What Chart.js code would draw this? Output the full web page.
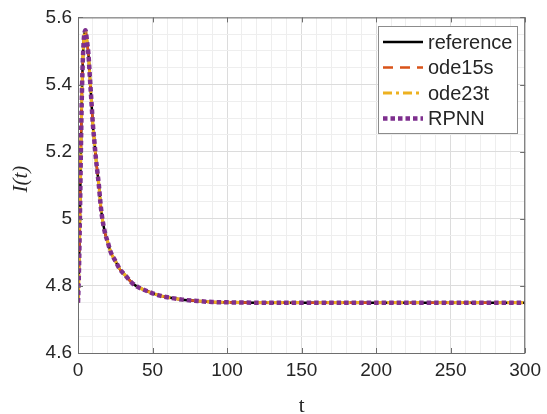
<!DOCTYPE html>
<html>
<head>
<meta charset="utf-8">
<script src="https://cdn.jsdelivr.net/npm/chart.js@4"></script>
<style>
  html, body { margin: 0; padding: 0; background: #fff; }
  #wrap { width: 547px; height: 414px; }
</style>
</head>
<body>
<div id="wrap"><canvas id="plot" width="547" height="414"></canvas></div>
<script>
// time samples (t) and I(t)
const tValues = [0, 0.5, 1, 1.5, 2, 2.5, 3, 3.5, 4, 5, 6, 7, 8, 9, 10, 11, 12, 13, 14, 15, 16, 18, 20, 22, 25, 28, 32, 36, 40, 45, 50, 55, 60, 70, 80, 90, 100, 120, 150, 200, 250, 300];
const referenceValues = [4.75, 4.82, 4.93, 5.07, 5.22, 5.35, 5.44, 5.50, 5.54, 5.562, 5.53, 5.49, 5.42, 5.35, 5.28, 5.23, 5.18, 5.14, 5.10, 5.05, 5.01, 4.96, 4.93, 4.90, 4.875, 4.85, 4.83, 4.81, 4.797, 4.787, 4.778, 4.771, 4.766, 4.759, 4.755, 4.752, 4.751, 4.75, 4.75, 4.75, 4.75, 4.75];
// the solvers and the network sit on top of the reference
const ode15sValues = referenceValues.slice();
const ode23tValues = referenceValues.slice();
const rpnnValues = referenceValues.slice();

const seriesNames = ["reference", "ode15s", "ode23t", "RPNN"];
const xTickLabels = [0, 50, 100, 150, 200, 250, 300];
const yTickLabels = [4.6, 4.8, 5, 5.2, 5.4, 5.6];

function toPoints(ys) {
    return tValues.map((t, i) => ({ x: t, y: ys[i] }));
}

function isMajorY(v) {
    return yTickLabels.some(l => Math.abs(l - v) < 1e-6);
}

const axisColor = "#6e6e6e";
const textColor = "#262626";

// MATLAB-like box, inner ticks, axis titles and legend
const matlabDecor = {
    id: "matlabDecor",
    afterDatasetsDraw(chart) {
        const ctx = chart.ctx;
        const a = chart.chartArea;
        const xs = chart.scales.x, ys = chart.scales.y;
        ctx.save();
        ctx.strokeStyle = axisColor;
        ctx.lineWidth = 1;
        ctx.strokeRect(a.left + 0.5, a.top + 0.5, a.right - a.left - 1, a.bottom - a.top);
        ctx.beginPath();
        xTickLabels.forEach(v => {
            const px = Math.round(xs.getPixelForValue(v)) + 0.5;
            ctx.moveTo(px, a.bottom); ctx.lineTo(px, a.bottom - 5);
            ctx.moveTo(px, a.top); ctx.lineTo(px, a.top + 5);
        });
        yTickLabels.forEach(v => {
            const py = Math.round(ys.getPixelForValue(v)) + 0.5;
            ctx.moveTo(a.left, py); ctx.lineTo(a.left + 5, py);
            ctx.moveTo(a.right, py); ctx.lineTo(a.right - 5, py);
        });
        ctx.stroke();

        // legend
        const lx = 378, ly = 26, lw = 139, lh = 107;
        ctx.fillStyle = "#fff";
        ctx.fillRect(lx, ly, lw, lh);
        ctx.strokeStyle = "#8c8c8c";
        ctx.strokeRect(lx + 0.5, ly + 0.5, lw, lh);
        ctx.font = "20px 'Liberation Sans', Arial, sans-serif";
        ctx.textBaseline = "middle";
        ctx.textAlign = "left";
        chart.data.datasets.forEach((ds, i) => {
            const y = 42 + i * 25.5;
            ctx.beginPath();
            ctx.strokeStyle = ds.borderColor;
            ctx.lineWidth = ds.borderWidth;
            ctx.setLineDash(ds.borderDash || []);
            ctx.moveTo(383, y);
            ctx.lineTo(423, y);
            ctx.stroke();
            ctx.setLineDash([]);
            ctx.fillStyle = textColor;
            ctx.fillText(ds.label, 428, y + 1);
        });

        // axis titles
        ctx.fillStyle = textColor;
        ctx.textAlign = "center";
        ctx.font = "21px 'Liberation Serif', 'Times New Roman', serif";
        ctx.fillText("t", (a.left + a.right) / 2, 406);
        ctx.translate(21, (a.top + a.bottom) / 2 - 6);
        ctx.rotate(-Math.PI / 2);
        ctx.font = "italic 21px 'Liberation Serif', 'Times New Roman', serif";
        ctx.fillText("I(t)", 0, 0);
        ctx.restore();
    }
};

new Chart(document.getElementById("plot"), {
    type: "line",
    data: {
        datasets: [
            { label: seriesNames[0], data: toPoints(referenceValues), borderColor: "#000000", borderWidth: 2.5, order: 4 },
            { label: seriesNames[1], data: toPoints(ode15sValues), borderColor: "#D95319", borderWidth: 2.5, borderDash: [10, 7], order: 3 },
            { label: seriesNames[2], data: toPoints(ode23tValues), borderColor: "#EDB120", borderWidth: 3.2, borderDash: [9, 4, 3, 4], order: 2 },
            { label: seriesNames[3], data: toPoints(rpnnValues), borderColor: "#7E2F8E", borderWidth: 4.5, borderDash: [4.5, 3], order: 1 }
        ]
    },
    options: {
        responsive: false,
        animation: false,
        layout: { padding: { top: 14, right: 20, left: 0, bottom: 0 } },
        elements: {
            point: { radius: 0 },
            line: { cubicInterpolationMode: "monotone", fill: false }
        },
        plugins: { legend: { display: false }, tooltip: { enabled: false } },
        scales: {
            x: {
                type: "linear",
                min: 0, max: 300,
                afterFit(scale) { scale.height = 61; },
                border: { display: false },
                grid: {
                    drawTicks: false,
                    color: ctx => ctx.tick && ctx.tick.value % 50 === 0 ? "#dcdcdc" : "#eeeeee"
                },
                ticks: {
                    stepSize: 10,
                    autoSkip: false,
                    maxRotation: 0,
                    padding: 6,
                    color: textColor,
                    font: { family: "'Liberation Sans', Arial, sans-serif", size: 19 },
                    callback: v => (v % 50 === 0 ? String(v) : "")
                }
            },
            y: {
                min: 4.6, max: 5.6,
                afterFit(scale) { scale.width = 78; },
                border: { display: false },
                grid: {
                    drawTicks: false,
                    color: ctx => ctx.tick && isMajorY(ctx.tick.value) ? "#dcdcdc" : "#eeeeee"
                },
                ticks: {
                    stepSize: 0.05,
                    autoSkip: false,
                    padding: 6,
                    color: textColor,
                    font: { family: "'Liberation Sans', Arial, sans-serif", size: 19 },
                    callback: v => (isMajorY(v) ? String(Math.round(v * 10) / 10) : "")
                }
            }
        }
    },
    plugins: [matlabDecor]
});
</script>
</body>
</html>
